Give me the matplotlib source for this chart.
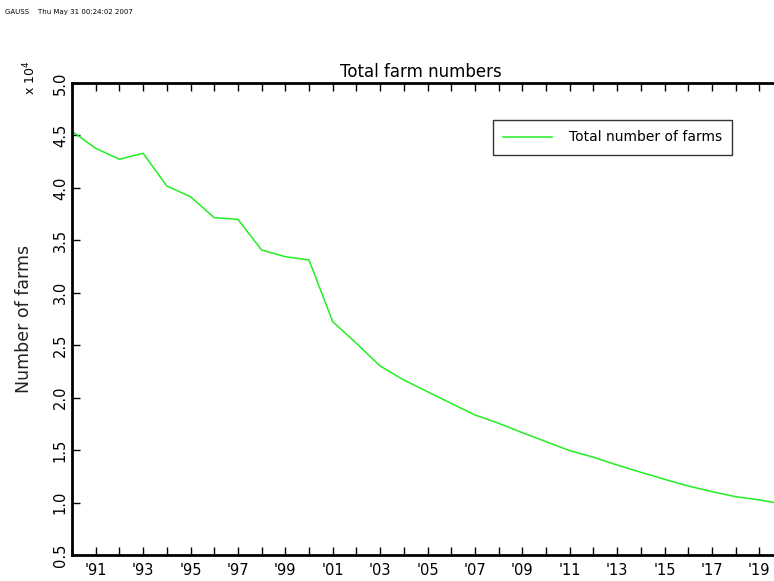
import matplotlib.pyplot as plt
from matplotlib.ticker import FixedLocator, FuncFormatter, MultipleLocator

years = list(range(1990, 2021))
farms = [45400, 43770, 42730, 43300, 40180, 39160, 37160, 37000, 34080, 33440,
         33130, 27250, 25180, 23020, 21690, 20570, 19460, 18350, 17560, 16660,
         15810, 14950, 14320, 13580, 12890, 12220, 11580, 11040, 10560, 10250,
         9850]

label_years = list(range(1991, 2020, 2))
label_text = ["'%02d" % (y % 100) for y in label_years]

plt.rcParams['font.family'] = ['DejaVu Sans']

fig = plt.figure(figsize=(7.74, 5.81), dpi=100)
# axes run slightly past the right edge of the page, as in the GAUSS output
ax = fig.add_axes([72 / 774, 26 / 581, 711 / 774, 472 / 581])

ax.plot(years, farms, color='#22ee22', lw=1.1, label='Total number of farms')

ax.set_xlim(1990, 2020)
ax.set_ylim(5000, 50000)

ax.xaxis.set_major_locator(FixedLocator(label_years))
ax.set_xticklabels(label_text)
ax.xaxis.set_minor_locator(MultipleLocator(1))
ax.yaxis.set_major_locator(MultipleLocator(5000))
ax.yaxis.set_major_formatter(FuncFormatter(lambda v, p: '%.1f' % (v / 1e4)))

ax.tick_params(axis='both', which='both', direction='in', top=True,
               right=False, width=1, color='black')
ax.tick_params(axis='x', which='both', length=6, labelsize=10.5, pad=6)
ax.tick_params(axis='y', length=6, labelsize=10.5, pad=3)
for t in ax.get_yticklabels():
    t.set_rotation(90)
    t.set_va('center')
for side in ['left', 'bottom', 'top']:
    ax.spines[side].set_linewidth(2)
ax.spines['right'].set_visible(False)

ax.set_ylabel('Number of farms', fontsize=12.5, labelpad=14, color='#222222')
ax.set_title('Total farm numbers', fontsize=12, pad=4, x=0.49)

fig.text(30 / 774, 1 - 78 / 581, r'x $10^4$', rotation=90, fontsize=9,
         ha='center', va='center')
fig.text(5 / 774, 1 - 12 / 581, 'GAUSS    Thu May 31 00:24:02 2007',
         fontsize=5, ha='left', va='center')

leg = ax.legend(loc='upper left', bbox_to_anchor=((493 - 72) / 711, 1 - (120 - 83) / 472),
                fontsize=10, frameon=True, fancybox=False, handlelength=3.5,
                borderpad=0.75, handletextpad=1.2, borderaxespad=0)
leg.get_frame().set_edgecolor('black')
leg.get_frame().set_linewidth(1)

fig.savefig('out.png', dpi=100)
